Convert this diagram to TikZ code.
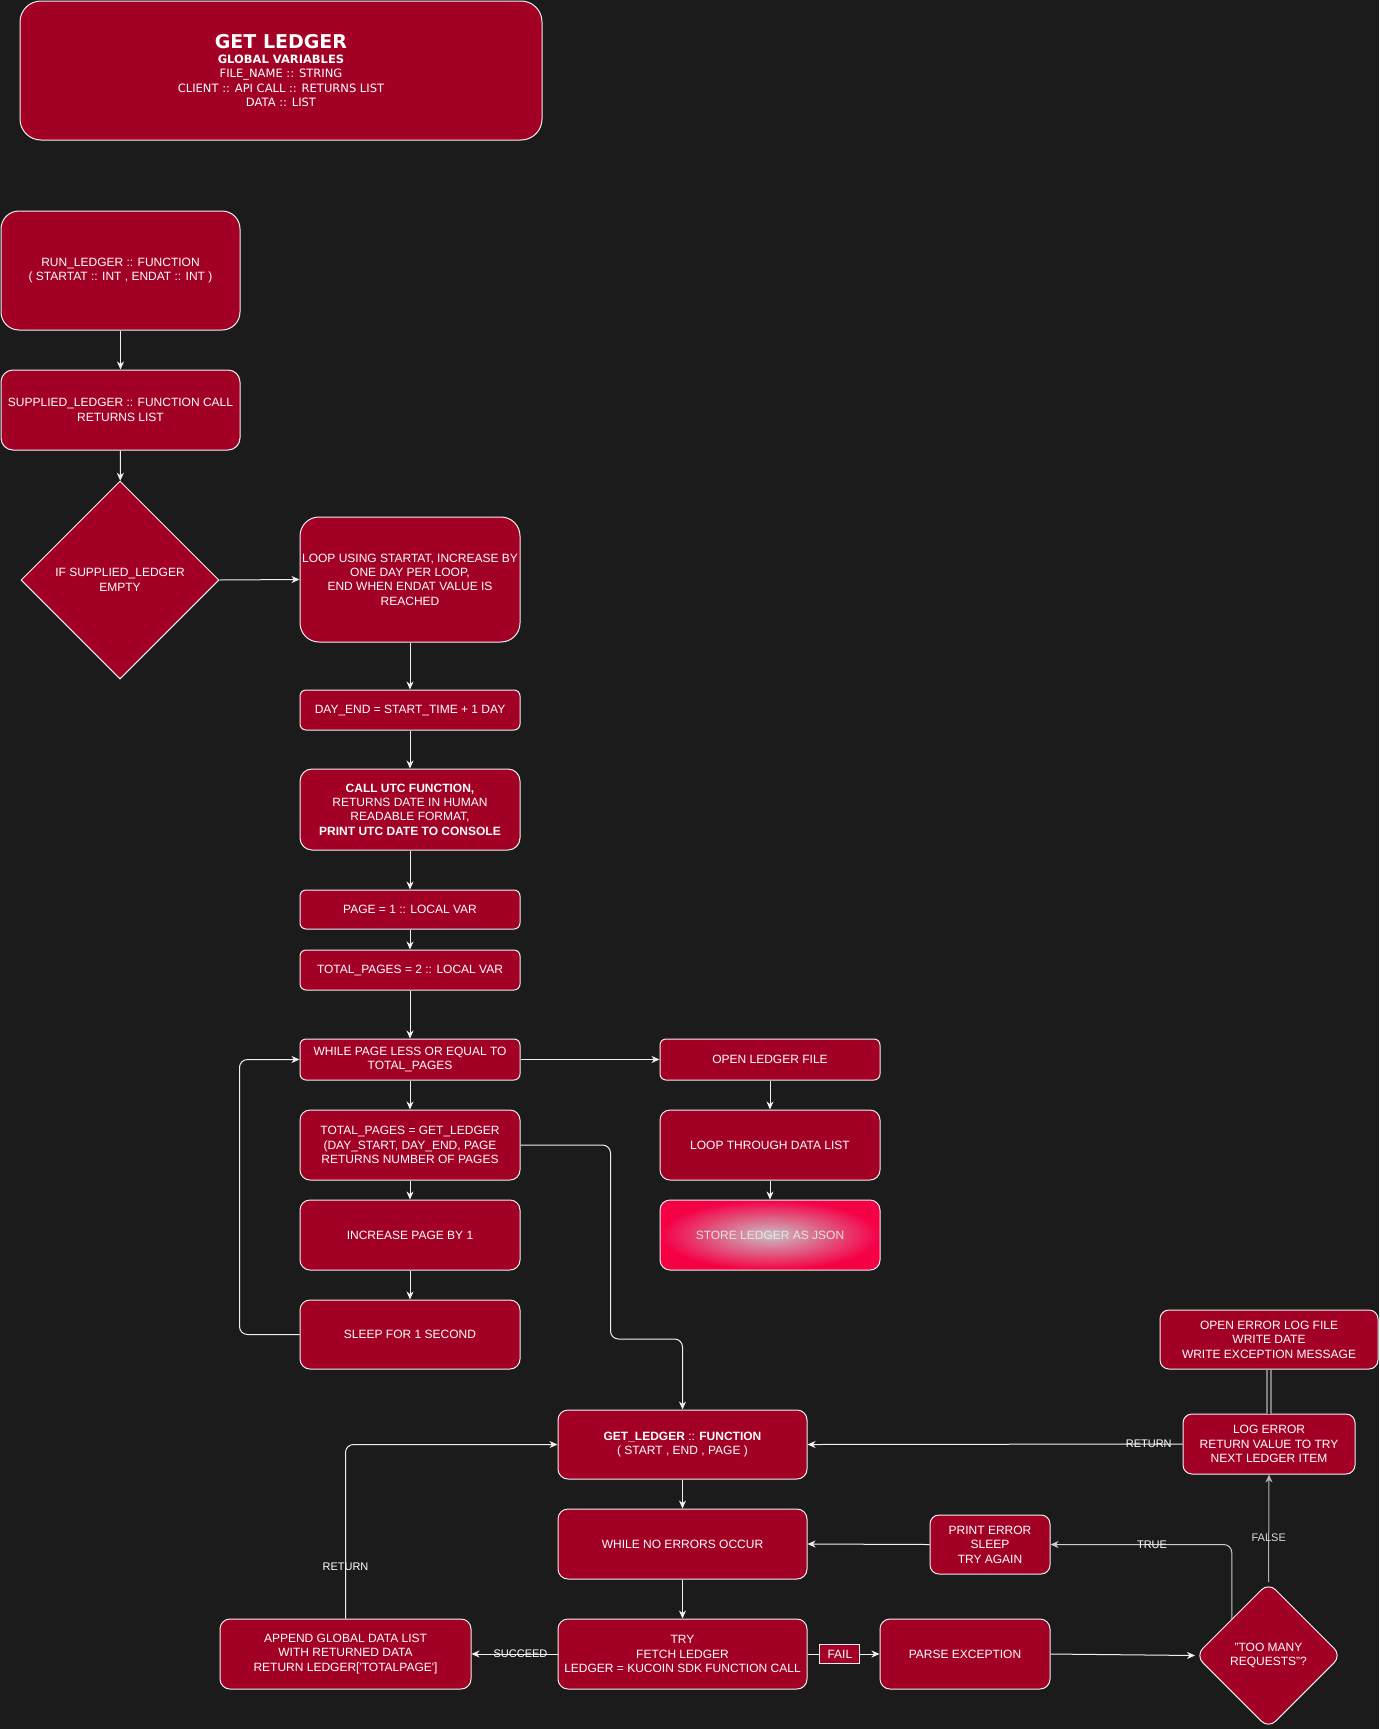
\documentclass[tikz,border=0pt]{standalone}
\usepackage{fontspec}
\setmainfont{Liberation Sans}
\newfontfamily\verdanafont{DejaVu Sans}
\usetikzlibrary{shapes.geometric}
\usetikzlibrary{arrows.meta}
\definecolor{bgdark}{HTML}{1B1B1B}
\definecolor{crimson}{HTML}{A20025}
\definecolor{linewhite}{HTML}{F0F0F0}
\definecolor{storeedge}{HTML}{F50045}
\definecolor{storemid}{HTML}{C9BEC3}
\newcommand{\boxfont}{\fontsize{12}{14.4}\selectfont}
\newcommand{\lblfont}{\fontsize{11}{13}\selectfont}
\tikzset{
  box/.style={draw=linewhite, fill=crimson, text=white, align=center, rounded corners=#1, inner sep=0pt, font=\boxfont, line width=1pt},
  box/.default=10,
  dia/.style={diamond, draw=linewhite, fill=crimson, text=white, align=center, inner sep=0pt, font=\boxfont, line width=1pt},
  arr/.style={draw=linewhite, line width=1pt, -{Stealth[length=8pt,width=7pt,inset=2.5pt]}},
  lbl/.style={text=white, font=\lblfont, inner sep=1pt}
}

\begin{document}
\begin{tikzpicture}[x=1pt, y=-1pt]
    \useasboundingbox (0,0) rectangle (1379,1729);
    \fill[bgdark] (0,0) rectangle (1379,1729);
    \node[box=21, minimum width=522pt, minimum height=139pt, font=\verdanafont\fontsize{11.5}{14.3}\selectfont] (title) at (281,70.5)
      {{\bfseries\fontsize{19}{19}\selectfont GET LEDGER}\\[1pt]\textbf{GLOBAL VARIABLES}\\FILE\_NAME :: STRING\\CLIENT :: API CALL :: RETURNS LIST\\DATA :: LIST};
    \node[box=18, minimum width=239pt, minimum height=119pt] (runfn) at (120.5,270.5) {RUN\_LEDGER :: FUNCTION\\( STARTAT :: INT , ENDAT :: INT )};
    \node[box=12, minimum width=239pt, minimum height=80pt] (suppl) at (120.5,410) {SUPPLIED\_LEDGER :: FUNCTION CALL\\RETURNS LIST};
    \node[dia, minimum width=198pt, minimum height=198pt] (ifempty) at (120,580) {IF SUPPLIED\_LEDGER\\EMPTY};
    \node[box=19, minimum width=220pt, minimum height=125pt] (dayloop) at (410,579.5) {LOOP USING STARTAT, INCREASE BY\\ONE DAY PER LOOP,\\END WHEN ENDAT VALUE IS\\REACHED};
    \node[box=6, minimum width=220pt, minimum height=40pt] (dayend) at (410,710) {DAY\_END = START\_TIME + 1 DAY};
    \node[box=12, minimum width=220pt, minimum height=81pt] (utc) at (410,809.5) {\textbf{CALL UTC FUNCTION,}\\RETURNS DATE IN HUMAN\\READABLE FORMAT,\\\textbf{PRINT UTC DATE TO CONSOLE}};
    \node[box=6, minimum width=220pt, minimum height=39pt] (pageone) at (410,909.5) {PAGE = 1 :: LOCAL VAR};
    \node[box=6, minimum width=220pt, minimum height=40pt] (totaltwo) at (410,970) {TOTAL\_PAGES = 2 :: LOCAL VAR};
    \node[box=6, minimum width=220pt, minimum height=41pt] (whilepage) at (410,1059.5) {WHILE PAGE LESS OR EQUAL TO\\TOTAL\_PAGES};
    \node[box=10, minimum width=220pt, minimum height=70pt] (totalget) at (410,1145) {TOTAL\_PAGES = GET\_LEDGER\\(DAY\_START, DAY\_END, PAGE\\RETURNS NUMBER OF PAGES};
    \node[box=10, minimum width=220pt, minimum height=70pt] (incpage) at (410,1235) {INCREASE PAGE BY 1};
    \node[box=10, minimum width=220pt, minimum height=69pt] (sleepone) at (410,1334.5) {SLEEP FOR 1 SECOND};
    \node[box=6, minimum width=220pt, minimum height=41pt] (openfile) at (770,1059.5) {OPEN LEDGER FILE};
    \node[box=10, minimum width=220pt, minimum height=70pt] (loopdata) at (770,1145) {LOOP THROUGH DATA LIST};
    \node[box=10, minimum width=220pt, minimum height=70pt, shading=radial, inner color=storemid, outer color=storeedge, text=white!90!black] (storejson) at (770,1235) {STORE LEDGER AS JSON};
    \node[box=9, minimum width=218pt, minimum height=59pt] (errlog) at (1269,1339.5) {OPEN ERROR LOG FILE\\WRITE DATE\\WRITE EXCEPTION MESSAGE};
    \node[box=9, minimum width=172pt, minimum height=60pt] (logerr) at (1269,1444) {LOG ERROR\\RETURN VALUE TO TRY\\NEXT LEDGER ITEM};
    \node[box=10, minimum width=249pt, minimum height=69pt] (getfn) at (682.5,1444.5) {\textbf{GET\_LEDGER} :: \textbf{FUNCTION}\\( START , END , PAGE )};
    \node[box=10, minimum width=249pt, minimum height=70pt] (noerr) at (682.5,1544) {WHILE NO ERRORS OCCUR};
    \node[box=10, minimum width=249pt, minimum height=70pt] (trycall) at (682.5,1654) {TRY\\FETCH LEDGER\\LEDGER = KUCOIN SDK FUNCTION CALL};
    \node[box=10, minimum width=251pt, minimum height=70pt] (appenddata) at (345.5,1654) {APPEND GLOBAL DATA LIST\\WITH RETURNED DATA\\RETURN LEDGER[\textquotesingle TOTALPAGE\textquotesingle]};
    \node[box=10, minimum width=170pt, minimum height=70pt] (parseexc) at (965,1654) {PARSE EXCEPTION};
    \node[box=9, minimum width=120pt, minimum height=59pt] (printerr) at (990,1544.5) {PRINT ERROR\\SLEEP\\TRY AGAIN};
    \node[dia, rounded corners=10pt, minimum width=146pt, minimum height=146pt] (toomany) at (1268.5,1655.5) {"TOO MANY\\REQUESTS"?};
    \draw[arr] (runfn) -- (suppl);
    \draw[arr] (suppl) -- (ifempty);
    \draw[arr] (ifempty.east) -- (dayloop.west);
    \draw[arr] (dayloop) -- (dayend);
    \draw[arr] (dayend) -- (utc);
    \draw[arr] (utc) -- (pageone);
    \draw[arr] (pageone) -- (totaltwo);
    \draw[arr] (totaltwo) -- (whilepage);
    \draw[arr] (whilepage) -- (totalget);
    \draw[arr] (totalget) -- (incpage);
    \draw[arr] (incpage) -- (sleepone);
    \draw[arr, rounded corners=8] (sleepone.west) -- ++(-60,0) |- (whilepage.west);
    \draw[arr] (whilepage.east) -- (openfile.west);
    \draw[arr] (openfile) -- (loopdata);
    \draw[arr] (loopdata) -- (storejson);
    \draw[arr, rounded corners=8] (totalget.east) -- ++(90,0) -- ++(0,194) -| (getfn.north);
    \draw[arr] (getfn) -- (noerr);
    \draw[arr] (noerr) -- (trycall);
    \draw[arr] (trycall.west) -- node[lbl, pos=0.43] {SUCCEED} (appenddata.east);
    \draw[arr, rounded corners=8] (appenddata.north) |- node[lbl, pos=0.15] {RETURN} (getfn.west);
    \draw[arr] (trycall.east) -- node[box=0, minimum width=40pt, minimum height=19pt, pos=0.45] {FAIL} (parseexc.west);
    \draw[arr] (parseexc.east) -- (toomany.west);
    \draw[arr, draw=white!80!black, rounded corners=8] (toomany.north west) |- node[lbl, pos=0.72] {TRUE} (printerr.east);
    \draw[arr] (printerr.west) -- (noerr.east);
    \draw[arr, draw=white!70!black] (toomany.north) -- node[lbl, pos=0.41, text=white!85!black] {FALSE} (logerr.south);
    \draw[arr] (logerr.west) -- node[lbl, pos=0.09] {RETURN} (getfn.east);
    \draw[draw=gray, line width=2pt, double=bgdark, double distance=1.2pt] (logerr.north) -- (errlog.south);
  \end{tikzpicture}
\end{document}
